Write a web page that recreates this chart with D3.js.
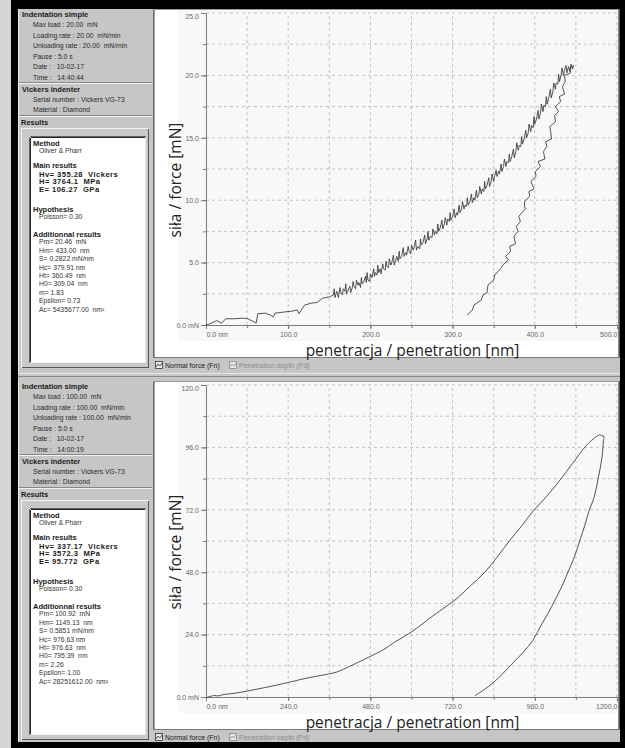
<!DOCTYPE html>
<html>
<head>
<meta charset="utf-8">
<script src="https://cdn.jsdelivr.net/npm/d3@7"></script>
<style>
body { margin: 0; background: #000; }
svg { display: block; }
text { white-space: pre; }
</style>
</head>
<body>
<script>
// ---- data ----
// top test: 20 mN, loading then unloading, [penetration nm, force mN]
const topLoad = [
  [0,0],[5,0.1],[13,0.35],[19,0.15],[24,0.5],[35,0.5],[44,0.55],[51,0.5],[57,0.3],[61,0.15],[63,0.9],
  [72,0.95],[78,0.8],[82,0.65],[84,0.95],[96,1.05],[104,1.1],[111,1.2],[113,0.9],[120,1.6],[128,1.75],
  [135,1.8],[142,2.15],[150,2.25],[155,2.4],
  [156,2.9],[157,2.2],[159,2.7],[160,2.5],[161,2.2],[163,3.0],[164,2.6],[166,2.4],[167,2.9],[169,2.7],
  [170,3.3],[171,2.5],[173,2.8],[175,3.1],[176,2.6],[178,3.0],[179,3.5],[180,3.1],[182,2.9],[183,3.6],
  [185,3.2],[186,3.4],[188,3.0],[189,3.8],[190,3.3],[192,3.5],[194,3.9],[195,3.4],[196,4.2],[197,3.6],
  [199,3.5],[200,4.1],[202,3.8],[204,4.5],[205,3.9],[206,4.2],[208,4.0],[209,4.8],[210,4.2],[212,4.5],
  [213,4.1],[215,4.9],[216,4.5],[218,4.4],[219,5.1],[220,4.7],[222,4.6],[223,5.3],[225,4.8],[226,5.0],
  [228,5.6],[229,4.8],[231,5.2],[232,5.5],[234,5.1],[235,5.9],[236,5.3],[238,5.5],[240,6.2],[241,5.5],
  [243,5.8],[244,5.6],[246,6.3],[247,5.9],[249,5.7],[250,6.4],[252,6.0],[253,6.2],[255,6.8],[256,6.0],
  [258,6.3],[260,6.1],[261,6.9],[262,6.4],[264,6.6],[266,7.2],[267,6.5],[269,6.9],[270,7.5],[271,6.8],
  [273,7.1],[275,7.0],[276,7.7],[278,7.2],[279,7.5],[281,7.3],[282,8.1],[283,7.5],[285,7.8],[287,8.4],
  [288,7.7],[290,8.1],[291,8.6],[293,8.0],[294,8.5],[296,8.3],[297,9.0],[298,8.4],[300,8.7],[302,9.3],
  [303,8.6],[305,9.0],[306,8.8],[308,9.6],[309,9.0],[311,9.3],[312,9.9],[314,9.3],[315,9.6],[317,9.5],
  [318,10.2],[319,9.6],[321,9.9],[323,10.5],[324,9.8],[326,10.2],[327,10.0],[329,10.8],[330,10.2],
  [332,10.5],[333,11.1],[335,10.5],[336,10.9],[338,10.7],[339,11.5],[340,10.9],[342,11.2],[344,11.8],
  [345,11.1],[347,11.5],[348,12.1],[350,11.5],[351,11.9],[353,12.4],[354,11.9],[356,12.3],[357,12.1],
  [359,12.9],[360,12.3],[362,12.7],[363,13.3],[365,12.7],[366,13.1],[368,13.0],[369,13.7],[370,13.1],
  [372,13.5],[374,14.1],[375,13.4],[377,13.9],[378,14.6],[380,14.0],[381,14.4],[383,14.3],[384,15.1],
  [385,14.5],[387,14.9],[389,15.6],[390,15.0],[392,15.4],[393,16.1],[395,15.5],[396,16.0],[398,15.8],
  [399,16.7],[400,16.1],[402,16.5],[404,17.2],[405,16.5],[407,17.0],[408,17.7],[410,17.1],[411,17.6],
  [413,17.5],[414,18.3],[415,17.7],[417,18.2],[419,18.9],[420,18.2],[422,18.7],[423,19.4],[425,18.9],
  [426,19.4],[428,19.3],[429,20.1],[430,19.5],[432,20.0],[433,20.6],[435,20.0],[436,20.4],[438,20.8],
  [439,20.2],[441,20.7],[443,20.3],[444,20.9],[446,20.5],[447,20.8]
];
const topUnload = [
  [447,20.8],[442,20.5],[443.5,20.2],[436,20.0],[437,19.5],[433.6,19.1],[436.2,18.5],[429.8,18.3],
  [431.4,17.9],[425,17.5],[429,17.1],[424.1,16.8],[425.2,16.3],[418.3,15.9],[419.3,15.5],[420.4,14.9],
  [413.4,14.7],[414.5,14.3],[410.5,13.9],[412.3,13.3],[404,13.1],[406.9,12.7],[400.7,12.3],[401.5,11.9],
  [395.3,11.5],[399,10.9],[392.9,10.7],[393.7,10.3],[387.5,9.9],[387.5,9.5],[388.5,9.3],[380.5,8.7],
  [382.5,8.3],[377.5,7.9],[379.5,7.5],[374.5,7.1],[376.5,6.5],[369.5,6.3],[370.5,5.9],[364.5,5.5],
  [368,5.2],[360.8,4.8],[359.5,4.6],[351.3,4.0],[350,3.6],[343,3.2],[342,2.6],[337,2.4],[335,2.0],
  [326,1.6],[324,1.2],[318,0.8]
];
// bottom test: 100 mN
const botLoad = [
  [0,-0.3],[12,0.2],[25,0.6],[35,0.4],[50,0.9],[75,1.3],[105,1.9],[140,2.8],[175,3.7],[207,4.6],
  [250,5.9],[295,7.3],[340,8.4],[382,9.6],[420,11.8],[458,14.2],[490,16.3],[517,18.1],[552,21.2],
  [600,25.0],[650,30.0],[690,33.8],[727,37.3],[770,42.5],[815,48.1],[850,53.8],[888,60.4],[920,65.5],
  [955,71.5],[995,77.2],[1034,83.5],[1070,89.8],[1107,96.2],[1130,99.2],[1142,100.4],[1149,100.9]
];
const botUnload = [
  [1149,100.9],[1156,100.5],[1162,100.2],[1160,98.5],[1159,96],[1156,92],[1151,88],[1145,84],[1139,80],
  [1130,75.5],[1118,71.5],[1106,66],[1092,60.4],[1076,54],[1057,48.1],[1039,42.5],[1019,37.3],[1000,32.5],
  [978,27.5],[955,21.9],[926,17.2],[896,13.1],[868,9.2],[838,5.4],[812,2.8],[785,0.5]
];

const topXTicks = [0, 100, 200, 300, 400, 500];
const topXGrid = [50, 100, 150, 200, 250, 300, 350, 400, 450, 500];
const topYTicks = [0, 5, 10, 15, 20, 25];
const topYGrid = [2.5, 5, 7.5, 10, 12.5, 15, 17.5, 20, 22.5, 25];
const botXTicks = [0, 240, 480, 720, 960, 1200];
const botXGrid = [120, 240, 360, 480, 600, 720, 840, 960, 1080, 1200];
const botYTicks = [0, 24, 48, 72, 96, 120];
const botYGrid = [12, 24, 36, 48, 60, 72, 84, 96, 108, 120];

const indentTop = ["Max load : 20.00  mN", "Loading rate : 20.00  mN/min", "Unloading rate : 20.00  mN/min",
  "Pause : 5.0 s", "Date :   10-02-17", "Time :   14:40:44"];
const indentBot = ["Max load : 100.00  mN", "Loading rate : 100.00  mN/min", "Unloading rate : 100.00  mN/min",
  "Pause : 5.0 s", "Date :   10-02-17", "Time :   14:00:19"];
const indenterLines = ["Serial number : Vickers VG-73", "Material : Diamond"];
const mainTop = ["Hv= 355.28  Vickers", "H= 3764.1  MPa", "E= 106.27  GPa"];
const mainBot = ["Hv= 337.17  Vickers", "H= 3572.3  MPa", "E= 95.772  GPa"];
const addTop = ["Pm= 20.46  mN", "Hm= 433.00  nm", "S= 0.2822 mN/nm", "Hc= 379.91 nm", "Ht= 360.49  nm",
  "H0= 309.04  nm", "m= 1.83", "Epsilon= 0.73", "Ac= 5435677.00  nm²"];
const addBot = ["Pm= 100.92  mN", "Hm= 1149.13  nm", "S= 0.5851 mN/nm", "Hc= 976.63 nm", "Ht= 976.63  nm",
  "H0= 795.39  nm", "m= 2.26", "Epsilon= 1.00", "Ac= 28251612.00  nm²"];

const legendNames = ["Normal force (Fn)", "Penetration depth (Pd)"];
const yTitle = "siła / force [mN]";
const xTitle = "penetracja / penetration [nm]";

const FONT = "'Liberation Sans', Arial, sans-serif";
const PANEL_GRAY = "#c6c6c6";

const svg = d3.select("body").append("svg")
  .attr("width", 625).attr("height", 748);

svg.append("rect").attr("width", 625).attr("height", 748).attr("fill", "#000");
svg.append("rect").attr("width", 11).attr("height", 748).attr("fill", "#d6d6d6");
svg.append("rect").attr("x", 18).attr("y", 9).attr("width", 602).attr("height", 733).attr("fill", PANEL_GRAY);

function hline(g, x1, x2, y, c) {
  g.append("line").attr("x1", x1).attr("x2", x2).attr("y1", y).attr("y2", y).attr("stroke", c);
}
function vline(g, x, y1, y2, c) {
  g.append("line").attr("x1", x).attr("x2", x).attr("y1", y1).attr("y2", y2).attr("stroke", c);
}
function txt(g, s, x, y, size, bold, color) {
  return g.append("text").attr("x", x).attr("y", y).attr("dy", "0.35em")
    .attr("font-family", FONT).attr("font-size", size)
    .attr("font-weight", bold ? "bold" : "normal")
    .attr("fill", color || "#1a1a1a").text(s);
}

function sidePanel(g, indent, main, add) {
  vline(g, 18.5, 9, 372, "#eee");
  txt(g, "Indentation simple", 22, 14, 7.5, true);
  indent.forEach((s, i) => txt(g, s, 33, 25 + i * 10.5, 6.8, false, "#2a2a2a"));
  hline(g, 19, 152, 82.5, "#888"); hline(g, 19, 152, 83.5, "#f2f2f2");
  txt(g, "Vickers indenter", 22, 89, 7.5, true);
  indenterLines.forEach((s, i) => txt(g, s, 33, 100 + i * 9.5, 6.8, false, "#2a2a2a"));
  hline(g, 19, 152, 115.5, "#888"); hline(g, 19, 152, 116.5, "#f2f2f2");
  txt(g, "Results", 21, 122, 7.5, true);

  // sunken results box
  g.append("rect").attr("x", 21.5).attr("y", 128.5).attr("width", 127).attr("height", 239)
    .attr("fill", "#c9c9c9").attr("stroke", "#f4f4f4");
  hline(g, 22, 149, 367.5, "#555"); vline(g, 148.5, 129, 368, "#555");
  g.append("rect").attr("x", 29.5).attr("y", 136.5).attr("width", 116).attr("height", 226)
    .attr("fill", "#fff").attr("stroke", "#eee");
  hline(g, 30, 146, 136.5, "#666"); vline(g, 29.5, 137, 363, "#666");
  hline(g, 31, 145, 137.5, "#222"); vline(g, 30.5, 138, 362, "#222");

  txt(g, "Method", 33, 143, 7.5, true);
  txt(g, "Oliver & Pharr", 39, 151, 6.8, false, "#333");
  txt(g, "Main results", 33, 165.5, 7.5, true);
  main.forEach((s, i) => txt(g, s, 39, 174 + i * 7.7, 7.6, true).attr("letter-spacing", 0.45));
  txt(g, "Hypothesis", 33, 209, 7.5, true);
  txt(g, "Poisson= 0.30", 39, 217, 6.8, false, "#333");
  txt(g, "Additionnal results", 33, 234, 7.5, true);
  add.forEach((s, i) => txt(g, s, 39, 242 + i * 8.4, 6.8, false, "#333"));
}

function chartPanel(g, load, unload, xTicks, xGrid, yTicks, yGrid, curve) {
  const xMax = xTicks[xTicks.length - 1], yMax = yTicks[yTicks.length - 1];
  const x = d3.scaleLinear().domain([0, xMax]).range([206, 617]);
  const y = d3.scaleLinear().domain([0, yMax]).range([325, 13]);

  // frame
  g.append("rect").attr("x", 153).attr("y", 9).attr("width", 467).attr("height", 349).attr("fill", "#fff");
  g.append("rect").attr("x", 178).attr("y", 10).attr("width", 440).attr("height", 331).attr("fill", "#f8f8f8");
  vline(g, 153.5, 9, 358, "#6e6e6e"); vline(g, 154.5, 9, 358, "#a0a0a0");
  hline(g, 153, 620, 9.5, "#9a9a9a");
  vline(g, 618.5, 9, 358, "#8a8a8a"); vline(g, 619.5, 9, 358, "#555");
  hline(g, 153, 620, 357.5, "#7a7a7a");

  // dashed grid
  const grid = g.append("g").attr("stroke", "#c2c2c2").attr("stroke-dasharray", "3,3");
  grid.selectAll(".gx").data(xGrid).join("line")
    .attr("x1", d => x(d)).attr("x2", d => x(d)).attr("y1", y(0)).attr("y2", y(yMax));
  grid.selectAll(".gy").data(yGrid).join("line")
    .attr("y1", d => y(d)).attr("y2", d => y(d)).attr("x1", x(0)).attr("x2", x(xMax));

  const styleAxis = a => {
    a.attr("font-family", FONT).attr("font-size", 7);
    a.select(".domain").attr("stroke", "#7a7a7a");
    a.selectAll(".tick line").attr("stroke", "#7a7a7a");
    a.selectAll(".tick text").attr("fill", "#666");
  };

  // minor ticks
  g.append("g").attr("transform", "translate(206,0)")
    .call(d3.axisLeft(y).tickValues(yGrid).tickSize(3).tickFormat(""))
    .call(a => { a.select(".domain").remove(); a.selectAll("line").attr("stroke", "#7a7a7a"); });
  g.append("g").attr("transform", "translate(0,325)")
    .call(d3.axisBottom(x).tickValues(xGrid).tickSize(3).tickFormat(""))
    .call(a => { a.select(".domain").remove(); a.selectAll("line").attr("stroke", "#7a7a7a"); });

  const yAxis = g.append("g").attr("transform", "translate(206,0)")
    .call(d3.axisLeft(y).tickValues(yTicks).tickSize(5).tickSizeOuter(0).tickPadding(2)
      .tickFormat(d => d === 0 ? "0.0 mN" : d3.format(".1f")(d)))
    .call(styleAxis);
  yAxis.selectAll(".tick text").filter(d => d === yMax).attr("dy", "0.75em");

  const xAxis = g.append("g").attr("transform", "translate(0,325)")
    .call(d3.axisBottom(x).tickValues(xTicks).tickSize(4).tickSizeOuter(0).tickPadding(3)
      .tickFormat(d => d === 0 ? "0.0 nm" : d3.format(".1f")(d)))
    .call(styleAxis);
  xAxis.selectAll(".tick text").filter(d => d === 0).attr("text-anchor", "start");
  xAxis.selectAll(".tick text").filter(d => d === xMax).attr("text-anchor", "end");

  // curves
  const line = d3.line().x(d => x(d[0])).y(d => y(d[1])).curve(curve);
  [load, unload].forEach(data => {
    g.append("path").datum(data).attr("fill", "none")
      .attr("stroke", "#363636").attr("stroke-width", 0.85).attr("stroke-linejoin", "round")
      .attr("d", line);
  });

  // titles
  g.append("text").attr("transform", `translate(181,${(y(0) + y(yMax)) / 2 + 11}) rotate(-90)`)
    .attr("text-anchor", "middle").attr("font-family", "'Open Sans', sans-serif")
    .attr("font-size", 15.5).attr("fill", "#222").text(yTitle);
  g.append("text").attr("x", (x(0) + x(xMax)) / 2 + 1).attr("y", 355.5)
    .attr("text-anchor", "middle").attr("font-family", "'Open Sans', sans-serif")
    .attr("font-size", 15.5).attr("fill", "#222").text(xTitle);

  // legend strip
  const lg = g.append("g");
  [[155, "#222"], [229, "#8c8c8c"]].forEach(([lx, c], i) => {
    lg.append("rect").attr("x", lx + 0.5).attr("y", 361.5).attr("width", 7).attr("height", 7)
      .attr("fill", "#e8e8e8").attr("stroke", i === 0 ? "#333" : "#888").attr("stroke-width", 0.8);
    lg.append("path").attr("d", `M${lx + 1},${367} L${lx + 3},${364} L${lx + 5},${366} L${lx + 7},${363}`)
      .attr("fill", "none").attr("stroke", i === 0 ? "#333" : "#888").attr("stroke-width", 0.8);
    txt(lg, legendNames[i], lx + 10, 365.5, 7, false, c);
  });

  // separator under the panel
  hline(g, 18, 620, 373.5, "#e8e8e8");
  hline(g, 18, 620, 376.5, "#8a8a8a");
}

const topG = svg.append("g");
sidePanel(topG, indentTop, mainTop, addTop);
chartPanel(topG, topLoad, topUnload, topXTicks, topXGrid, topYTicks, topYGrid, d3.curveLinear);

const botG = svg.append("g").attr("transform", "translate(0,372)");
sidePanel(botG, indentBot, mainBot, addBot);
chartPanel(botG, botLoad, botUnload, botXTicks, botXGrid, botYTicks, botYGrid, d3.curveCatmullRom.alpha(0.5));

// black strip left of the panels and the bottom band
svg.append("rect").attr("x", 11).attr("y", 0).attr("width", 7).attr("height", 748).attr("fill", "#000");
svg.append("rect").attr("x", 11).attr("y", 742).attr("width", 614).attr("height", 6).attr("fill", "#000");
</script>
</body>
</html>
